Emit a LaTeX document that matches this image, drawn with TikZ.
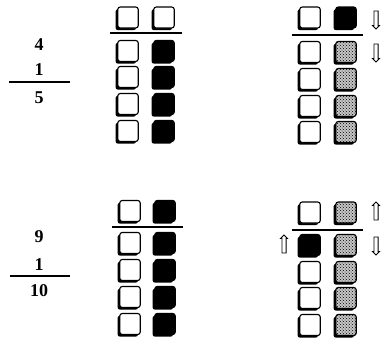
\documentclass[tikz,border=0pt]{standalone}
\usepackage{fontspec}
\setmainfont{Liberation Serif}
\usetikzlibrary{shadows,patterns,shapes.arrows}
\begin{document}
\begin{tikzpicture}[x=1pt,y=-1pt,
  bead/.style={draw, line width=1.1pt, rounded corners=2.5pt, minimum width=20.5pt, minimum height=21pt, inner sep=0pt, fill=white,
    general shadow={fill=black, shadow xshift=-2.2pt, shadow yshift=-2.2pt, rounded corners=2.5pt}},
  darkbead/.style={bead, fill=black},
  dotbead/.style={bead, preaction={fill=gray!45}, pattern=crosshatch dots, pattern color=black},
  bar/.style={line width=1.5pt},
  num/.style={font=\fontsize{18}{18}\selectfont\bfseries, inner sep=0pt},
  fracline/.style={line width=1.3pt},
  harrow/.style={single arrow, draw, line width=0.9pt, minimum height=18pt, single arrow head extend=1.4pt, inner sep=1.6pt, fill=white},
  downarrow/.style={harrow, shape border rotate=270},
  uparrow/.style={harrow, shape border rotate=90}]
\useasboundingbox (0,0) rectangle (383,341);

% ---------- top-left
\node[num] (n4) at (39,45) {4};
\node[num] (n1a) at (39,70) {1};
\coordinate (fl1a) at (9,82);
\coordinate (fl1b) at (70,82);
\draw[fracline] (fl1a) -- (fl1b);
\node[num] (n5) at (39,98) {5};

\node[bead] (a0l) at (128,17.5) {};
\node[bead] (a0r) at (164,17.5) {};
\coordinate (ab1) at (110,33);
\coordinate (ab2) at (182,33);
\draw[bar] (ab1) -- (ab2);
\foreach \y [count=\i] in {51,77,104,131}{
  \node[bead] (a\i l) at (128,\y) {};
  \node[darkbead] (a\i r) at (164,\y) {};
}

% ---------- top-right
\node[bead] (b0l) at (310,17.5) {};
\node[darkbead] (b0r) at (346,17.5) {};
\coordinate (bb1) at (292,35);
\coordinate (bb2) at (363,35);
\draw[bar] (bb1) -- (bb2);
\foreach \y [count=\i] in {52,79,106,132}{
  \node[bead] (b\i l) at (310,\y) {};
  \node[dotbead] (b\i r) at (346,\y) {};
}
\node[downarrow] (bar1) at (376,19) {};
\node[downarrow] (bar2) at (376,52) {};

% ---------- bottom-left
\node[num] (n9) at (39,237) {9};
\node[num] (n1b) at (39,265) {1};
\coordinate (fl2a) at (10,276);
\coordinate (fl2b) at (70,276);
\draw[fracline] (fl2a) -- (fl2b);
\node[num] (n10) at (39,291) {10};

\node[bead] (c0l) at (130,211) {};
\node[darkbead] (c0r) at (165,211) {};
\coordinate (cb1) at (112,227);
\coordinate (cb2) at (183,227);
\draw[bar] (cb1) -- (cb2);
\foreach \y [count=\i] in {243,270,297,324}{
  \node[bead] (c\i l) at (130,\y) {};
  \node[darkbead] (c\i r) at (165,\y) {};
}

% ---------- bottom-right
\node[bead] (d0l) at (310,212.5) {};
\node[dotbead] (d0r) at (346,212.5) {};
\coordinate (db1) at (292,230);
\coordinate (db2) at (363,230);
\draw[bar] (db1) -- (db2);
\node[darkbead] (d1l) at (310,245) {};
\node[dotbead] (d1r) at (346,245) {};
\foreach \y [count=\i from 2] in {272,298,325}{
  \node[bead] (d\i l) at (310,\y) {};
  \node[dotbead] (d\i r) at (346,\y) {};
}
\node[uparrow] (dar1) at (376,212) {};
\node[uparrow] (dal1) at (284,245) {};
\node[downarrow] (dar2) at (376,245) {};
\end{tikzpicture}
\end{document}
